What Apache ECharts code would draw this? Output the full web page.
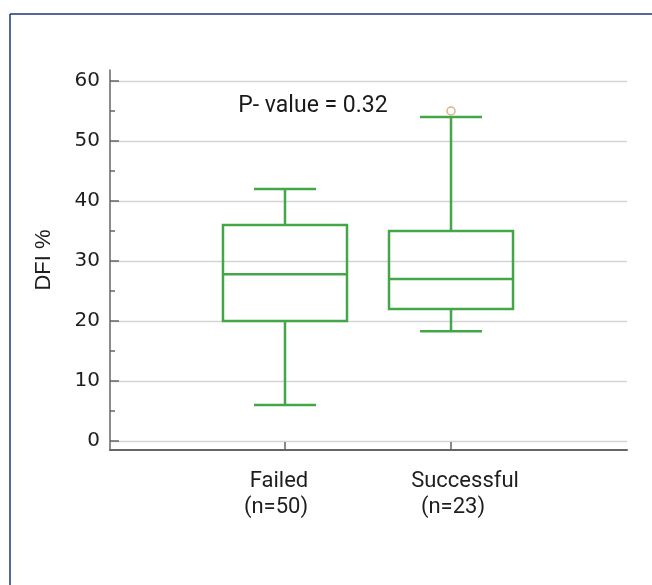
<!DOCTYPE html>
<html><head><meta charset="utf-8">
<script src="https://cdn.jsdelivr.net/npm/echarts@6/dist/echarts.min.js"></script>
<style>html,body{margin:0;padding:0;background:#fff}#c{width:652px;height:585px}</style>
</head><body><div id="c"></div>
<script>
// ---- data ----
const categories = ['Failed', 'Successful'];
const sampleLabels = ['(n=50)', '(n=23)'];
const whiskerLow = [6, 18.3];
const q1 = [20, 22];
const median = [27.8, 27];
const q3 = [36, 35];
const whiskerHigh = [42, 54];
const outlierGroup = [1];
const outlierValue = [55];
const pValueText = 'P- value = 0.32';
const yAxisName = 'DFI %';

// ---- styling ----
const GREEN = '#43a648';
const AXIS = '#666';
const TEXT = '#1e1e1e';
const X_MIN = -1.054, X_MAX = 2.06;
const BOX_WIDTH = 0.747;   // in x-axis units

const boxData = categories.map((c, i) => [i, whiskerLow[i], q1[i], median[i], q3[i], whiskerHigh[i]]);
const outlierData = outlierGroup.map((g, i) => [g, outlierValue[i]]);
const catIdx = categories.map((c, i) => i);

const chart = echarts.init(document.getElementById('c'), null, {renderer: 'canvas'});
const labFont = {fontFamily: 'Roboto', fontSize: 22, color: TEXT, lineHeight: 26};

chart.setOption({
  animation: false,
  backgroundColor: '#fff',
  graphic: [
    {type: 'line', shape: {x1: 10, y1: 14, x2: 652, y2: 14}, style: {stroke: '#1f3577', lineWidth: 1.5}},
    {type: 'line', shape: {x1: 10, y1: 14, x2: 10, y2: 585}, style: {stroke: '#1f3577', lineWidth: 1.5}},
    {type: 'text', style: {text: pValueText, x: 313, y: 106, align: 'center', verticalAlign: 'middle',
      font: '23px Roboto', fill: '#1a1a1a'}}
  ],
  grid: [
    {left: 110, right: 25, top: 81, bottom: 144},
    {left: 110, right: 25, top: 70, bottom: 135}
  ],
  xAxis: [
    {gridIndex: 0, type: 'value', min: X_MIN, max: X_MAX, show: false},
    {gridIndex: 1, type: 'value', min: X_MIN, max: X_MAX,
      splitLine: {show: false},
      axisLine: {onZero: false, lineStyle: {color: '#666', width: 2}},
      axisTick: {inside: true, length: 8, customValues: catIdx, lineStyle: {color: AXIS, width: 1.5}},
      axisLabel: {
        customValues: catIdx, margin: 18,
        formatter: v => { const i = Math.round(v); return '{c' + i + 'a|' + categories[i] + '}\n{c' + i + 'b|' + sampleLabels[i] + '}'; },
        rich: {
          c0a: Object.assign({padding: [0, 12, 0, 0]}, labFont),
          c0b: Object.assign({padding: [0, 18, 0, 0]}, labFont),
          c1a: Object.assign({padding: [0, 0, 0, 28]}, labFont),
          c1b: Object.assign({padding: [0, 0, 0, 4]}, labFont)
        }
      }
    }
  ],
  yAxis: [
    {gridIndex: 0, type: 'value', min: 0, max: 60, interval: 10,
      axisLine: {show: false, onZero: false},
      axisTick: {show: true, inside: true, length: 9, lineStyle: {color: AXIS, width: 1.5}},
      minorTick: {show: true, splitNumber: 2, length: 5, lineStyle: {color: AXIS, width: 1.5}},
      splitLine: {show: true, lineStyle: {color: '#d4d4d4', width: 1.3}},
      axisLabel: {margin: 10, fontFamily: 'DejaVu Sans', fontSize: 20, color: TEXT}
    },
    {gridIndex: 1, type: 'value', min: -1.5, max: 61.83,
      axisLine: {show: true, onZero: false, lineStyle: {color: AXIS, width: 1.5}},
      axisTick: {show: false}, axisLabel: {show: false}, splitLine: {show: false},
      name: yAxisName, nameLocation: 'middle', nameGap: 55,
      nameTextStyle: {fontFamily: 'Liberation Sans', fontSize: 22, color: TEXT}
    }
  ],
  series: [
    {
      type: 'custom', xAxisIndex: 0, yAxisIndex: 0,
      encode: {x: 0, y: [1, 2, 3, 4, 5]},
      data: boxData,
      renderItem: function (params, api) {
        const x = api.value(0);
        const lo = api.coord([x, api.value(1)]);
        const b1 = api.coord([x, api.value(2)]);
        const md = api.coord([x, api.value(3)]);
        const b3 = api.coord([x, api.value(4)]);
        const hi = api.coord([x, api.value(5)]);
        const hb = api.size([BOX_WIDTH, 0])[0] / 2;
        const hc = hb / 2;
        const st = {stroke: GREEN, lineWidth: 2.5, fill: null};
        const cx = lo[0];
        return {type: 'group', children: [
          {type: 'rect', shape: {x: cx - hb, y: b3[1], width: 2 * hb, height: b1[1] - b3[1]}, style: st},
          {type: 'line', shape: {x1: cx - hb, y1: md[1], x2: cx + hb, y2: md[1]}, style: st},
          {type: 'line', shape: {x1: cx, y1: b3[1], x2: cx, y2: hi[1]}, style: st},
          {type: 'line', shape: {x1: cx - hc, y1: hi[1], x2: cx + hc, y2: hi[1]}, style: st},
          {type: 'line', shape: {x1: cx, y1: b1[1], x2: cx, y2: lo[1]}, style: st},
          {type: 'line', shape: {x1: cx - hc, y1: lo[1], x2: cx + hc, y2: lo[1]}, style: st}
        ]};
      }
    },
    {
      type: 'scatter', xAxisIndex: 0, yAxisIndex: 0, z: 5,
      data: outlierData, symbol: 'circle', symbolSize: 8,
      itemStyle: {color: 'rgba(255,255,255,0)', borderColor: '#e09a62', borderWidth: 1.5}
    }
  ]
});
</script></body></html>
